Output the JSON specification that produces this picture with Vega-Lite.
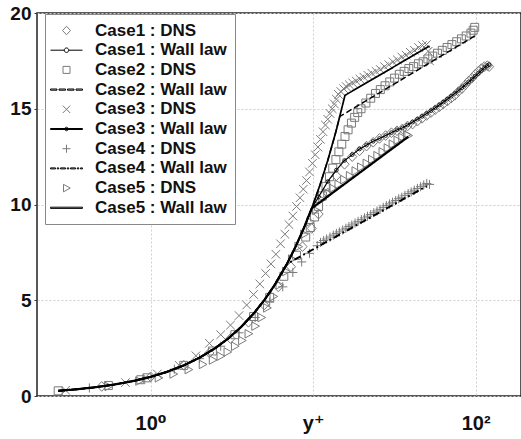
{
  "$schema": "https://vega.github.io/schema/vega-lite/v6.json",
  "width": 484,
  "height": 383,
  "autosize": "none",
  "padding": {"left": 37, "top": 13, "right": 0, "bottom": 43},
  "background": "white",
  "config": {
    "view": {"stroke": "#222222", "strokeWidth": 1.5},
    "axis": {
      "domain": false,
      "title": null,
      "labelFont": "Liberation Sans, DejaVu Sans",
      "labelFontWeight": "bold",
      "labelColor": "#111111",
      "gridColor": "#cfcfcf",
      "gridDash": [2, 2],
      "gridWidth": 1,
      "labelFlush": false,
      "labelOverlap": false
    },
    "legend": {
      "orient": "none",
      "legendX": 8,
      "legendY": 1,
      "padding": 8,
      "rowPadding": 1.7,
      "strokeColor": "#888888",
      "fillColor": "white",
      "symbolSize": 100,
      "symbolOffset": 5,
      "labelOffset": 20,
      "symbolStrokeWidth": 1,
      "symbolOpacity": 1,
      "labelFont": "Liberation Sans",
      "labelFontSize": 17,
      "labelFontWeight": "bold",
      "labelColor": "#111111",
      "labelLimit": 300
    }
  },
  "datasets": {
    "dns": [
      {"series": "Case1 : DNS", "yplus": 0.5, "u": 0.5},
      {"series": "Case1 : DNS", "yplus": 1.0, "u": 1.0},
      {"series": "Case1 : DNS", "yplus": 1.6, "u": 1.6},
      {"series": "Case1 : DNS", "yplus": 2.3, "u": 2.25},
      {"series": "Case1 : DNS", "yplus": 3.1, "u": 3.0},
      {"series": "Case1 : DNS", "yplus": 4.0, "u": 3.85},
      {"series": "Case1 : DNS", "yplus": 5.0, "u": 4.75},
      {"series": "Case1 : DNS", "yplus": 6.1, "u": 5.7},
      {"series": "Case1 : DNS", "yplus": 7.3, "u": 6.75},
      {"series": "Case1 : DNS", "yplus": 8.6, "u": 7.8},
      {"series": "Case1 : DNS", "yplus": 9.8, "u": 8.75},
      {"series": "Case1 : DNS", "yplus": 10.8, "u": 9.5},
      {"series": "Case1 : DNS", "yplus": 12.3, "u": 10.6},
      {"series": "Case1 : DNS", "yplus": 13.9, "u": 11.5},
      {"series": "Case1 : DNS", "yplus": 15.6, "u": 12.1},
      {"series": "Case1 : DNS", "yplus": 17.4, "u": 12.5},
      {"series": "Case1 : DNS", "yplus": 19.3, "u": 12.8},
      {"series": "Case1 : DNS", "yplus": 21.3, "u": 13.05},
      {"series": "Case1 : DNS", "yplus": 23.4, "u": 13.25},
      {"series": "Case1 : DNS", "yplus": 25.6, "u": 13.45},
      {"series": "Case1 : DNS", "yplus": 27.9, "u": 13.6},
      {"series": "Case1 : DNS", "yplus": 30.3, "u": 13.75},
      {"series": "Case1 : DNS", "yplus": 32.8, "u": 13.85},
      {"series": "Case1 : DNS", "yplus": 35.4, "u": 13.95},
      {"series": "Case1 : DNS", "yplus": 38.1, "u": 14.1},
      {"series": "Case1 : DNS", "yplus": 40.9, "u": 14.2},
      {"series": "Case1 : DNS", "yplus": 43.8, "u": 14.35},
      {"series": "Case1 : DNS", "yplus": 46.8, "u": 14.5},
      {"series": "Case1 : DNS", "yplus": 49.9, "u": 14.65},
      {"series": "Case1 : DNS", "yplus": 53.1, "u": 14.8},
      {"series": "Case1 : DNS", "yplus": 56.4, "u": 14.95},
      {"series": "Case1 : DNS", "yplus": 59.8, "u": 15.1},
      {"series": "Case1 : DNS", "yplus": 63.3, "u": 15.25},
      {"series": "Case1 : DNS", "yplus": 66.9, "u": 15.4},
      {"series": "Case1 : DNS", "yplus": 70.6, "u": 15.55},
      {"series": "Case1 : DNS", "yplus": 74.4, "u": 15.7},
      {"series": "Case1 : DNS", "yplus": 78.3, "u": 15.9},
      {"series": "Case1 : DNS", "yplus": 82.3, "u": 16.05},
      {"series": "Case1 : DNS", "yplus": 86.4, "u": 16.25},
      {"series": "Case1 : DNS", "yplus": 90.6, "u": 16.45},
      {"series": "Case1 : DNS", "yplus": 94.9, "u": 16.6},
      {"series": "Case1 : DNS", "yplus": 99.3, "u": 16.8},
      {"series": "Case1 : DNS", "yplus": 103.8, "u": 16.95},
      {"series": "Case1 : DNS", "yplus": 108.4, "u": 17.1},
      {"series": "Case1 : DNS", "yplus": 113.1, "u": 17.2},
      {"series": "Case1 : DNS", "yplus": 117.9, "u": 17.25},
      {"series": "Case1 : DNS", "yplus": 121, "u": 17.2},

      {"series": "Case2 : DNS", "yplus": 0.27, "u": 0.27},
      {"series": "Case2 : DNS", "yplus": 0.55, "u": 0.55},
      {"series": "Case2 : DNS", "yplus": 0.87, "u": 0.85},
      {"series": "Case2 : DNS", "yplus": 0.95, "u": 0.95},
      {"series": "Case2 : DNS", "yplus": 1.6, "u": 1.6},
      {"series": "Case2 : DNS", "yplus": 2.4, "u": 2.35},
      {"series": "Case2 : DNS", "yplus": 3.3, "u": 3.2},
      {"series": "Case2 : DNS", "yplus": 4.3, "u": 4.15},
      {"series": "Case2 : DNS", "yplus": 5.4, "u": 5.15},
      {"series": "Case2 : DNS", "yplus": 6.6, "u": 6.25},
      {"series": "Case2 : DNS", "yplus": 7.9, "u": 7.35},
      {"series": "Case2 : DNS", "yplus": 9.0, "u": 8.3},
      {"series": "Case2 : DNS", "yplus": 9.6, "u": 8.8},
      {"series": "Case2 : DNS", "yplus": 10.2, "u": 9.35},
      {"series": "Case2 : DNS", "yplus": 10.8, "u": 9.9},
      {"series": "Case2 : DNS", "yplus": 11.4, "u": 10.45},
      {"series": "Case2 : DNS", "yplus": 12.0, "u": 10.95},
      {"series": "Case2 : DNS", "yplus": 12.6, "u": 11.45},
      {"series": "Case2 : DNS", "yplus": 13.2, "u": 11.9},
      {"series": "Case2 : DNS", "yplus": 13.8, "u": 12.35},
      {"series": "Case2 : DNS", "yplus": 14.4, "u": 12.75},
      {"series": "Case2 : DNS", "yplus": 15.0, "u": 13.15},
      {"series": "Case2 : DNS", "yplus": 15.7, "u": 13.55},
      {"series": "Case2 : DNS", "yplus": 16.4, "u": 13.9},
      {"series": "Case2 : DNS", "yplus": 17.2, "u": 14.25},
      {"series": "Case2 : DNS", "yplus": 18.0, "u": 14.55},
      {"series": "Case2 : DNS", "yplus": 18.8, "u": 14.8},
      {"series": "Case2 : DNS", "yplus": 19.7, "u": 15.0},
      {"series": "Case2 : DNS", "yplus": 21.1, "u": 15.3},
      {"series": "Case2 : DNS", "yplus": 22.6, "u": 15.55},
      {"series": "Case2 : DNS", "yplus": 24.2, "u": 15.8},
      {"series": "Case2 : DNS", "yplus": 25.9, "u": 16.0},
      {"series": "Case2 : DNS", "yplus": 27.7, "u": 16.2},
      {"series": "Case2 : DNS", "yplus": 29.6, "u": 16.4},
      {"series": "Case2 : DNS", "yplus": 31.7, "u": 16.6},
      {"series": "Case2 : DNS", "yplus": 33.9, "u": 16.8},
      {"series": "Case2 : DNS", "yplus": 36.3, "u": 16.95},
      {"series": "Case2 : DNS", "yplus": 38.8, "u": 17.1},
      {"series": "Case2 : DNS", "yplus": 41.5, "u": 17.2},
      {"series": "Case2 : DNS", "yplus": 44.4, "u": 17.35},
      {"series": "Case2 : DNS", "yplus": 47.5, "u": 17.45},
      {"series": "Case2 : DNS", "yplus": 50.8, "u": 17.6},
      {"series": "Case2 : DNS", "yplus": 54.4, "u": 17.75},
      {"series": "Case2 : DNS", "yplus": 58.2, "u": 17.9},
      {"series": "Case2 : DNS", "yplus": 62.3, "u": 18.05},
      {"series": "Case2 : DNS", "yplus": 66.7, "u": 18.2},
      {"series": "Case2 : DNS", "yplus": 71.4, "u": 18.35},
      {"series": "Case2 : DNS", "yplus": 76.4, "u": 18.5},
      {"series": "Case2 : DNS", "yplus": 81.7, "u": 18.65},
      {"series": "Case2 : DNS", "yplus": 87.4, "u": 18.8},
      {"series": "Case2 : DNS", "yplus": 93.5, "u": 18.95},
      {"series": "Case2 : DNS", "yplus": 96.5, "u": 19.1},
      {"series": "Case2 : DNS", "yplus": 98.6, "u": 19.25},

      {"series": "Case3 : DNS", "yplus": 0.3, "u": 0.3},
      {"series": "Case3 : DNS", "yplus": 0.7, "u": 0.7},
      {"series": "Case3 : DNS", "yplus": 1.1, "u": 1.15},
      {"series": "Case3 : DNS", "yplus": 1.5, "u": 1.6},
      {"series": "Case3 : DNS", "yplus": 1.9, "u": 2.1},
      {"series": "Case3 : DNS", "yplus": 2.3, "u": 2.75},
      {"series": "Case3 : DNS", "yplus": 2.7, "u": 3.2},
      {"series": "Case3 : DNS", "yplus": 3.1, "u": 3.7},
      {"series": "Case3 : DNS", "yplus": 3.5, "u": 4.2},
      {"series": "Case3 : DNS", "yplus": 3.9, "u": 4.75},
      {"series": "Case3 : DNS", "yplus": 4.3, "u": 5.3},
      {"series": "Case3 : DNS", "yplus": 4.7, "u": 5.85},
      {"series": "Case3 : DNS", "yplus": 5.1, "u": 6.4},
      {"series": "Case3 : DNS", "yplus": 5.5, "u": 6.9},
      {"series": "Case3 : DNS", "yplus": 5.9, "u": 7.4},
      {"series": "Case3 : DNS", "yplus": 6.3, "u": 7.95},
      {"series": "Case3 : DNS", "yplus": 6.7, "u": 8.45},
      {"series": "Case3 : DNS", "yplus": 7.1, "u": 8.95},
      {"series": "Case3 : DNS", "yplus": 7.5, "u": 9.4},
      {"series": "Case3 : DNS", "yplus": 7.9, "u": 9.9},
      {"series": "Case3 : DNS", "yplus": 8.3, "u": 10.35},
      {"series": "Case3 : DNS", "yplus": 8.7, "u": 10.8},
      {"series": "Case3 : DNS", "yplus": 9.1, "u": 11.25},
      {"series": "Case3 : DNS", "yplus": 9.5, "u": 11.7},
      {"series": "Case3 : DNS", "yplus": 9.9, "u": 12.15},
      {"series": "Case3 : DNS", "yplus": 10.3, "u": 12.6},
      {"series": "Case3 : DNS", "yplus": 10.7, "u": 13.0},
      {"series": "Case3 : DNS", "yplus": 11.1, "u": 13.4},
      {"series": "Case3 : DNS", "yplus": 11.5, "u": 13.8},
      {"series": "Case3 : DNS", "yplus": 11.9, "u": 14.15},
      {"series": "Case3 : DNS", "yplus": 12.3, "u": 14.45},
      {"series": "Case3 : DNS", "yplus": 12.7, "u": 14.75},
      {"series": "Case3 : DNS", "yplus": 13.1, "u": 15.0},
      {"series": "Case3 : DNS", "yplus": 13.5, "u": 15.25},
      {"series": "Case3 : DNS", "yplus": 13.9, "u": 15.5},
      {"series": "Case3 : DNS", "yplus": 14.3, "u": 15.75},
      {"series": "Case3 : DNS", "yplus": 14.8, "u": 15.9},
      {"series": "Case3 : DNS", "yplus": 15.4, "u": 16.05},
      {"series": "Case3 : DNS", "yplus": 16.0, "u": 16.15},
      {"series": "Case3 : DNS", "yplus": 16.7, "u": 16.25},
      {"series": "Case3 : DNS", "yplus": 17.5, "u": 16.35},
      {"series": "Case3 : DNS", "yplus": 18.4, "u": 16.45},
      {"series": "Case3 : DNS", "yplus": 19.4, "u": 16.55},
      {"series": "Case3 : DNS", "yplus": 20.5, "u": 16.65},
      {"series": "Case3 : DNS", "yplus": 21.7, "u": 16.75},
      {"series": "Case3 : DNS", "yplus": 23.0, "u": 16.85},
      {"series": "Case3 : DNS", "yplus": 24.4, "u": 16.95},
      {"series": "Case3 : DNS", "yplus": 25.9, "u": 17.05},
      {"series": "Case3 : DNS", "yplus": 27.5, "u": 17.2},
      {"series": "Case3 : DNS", "yplus": 29.2, "u": 17.3},
      {"series": "Case3 : DNS", "yplus": 31.0, "u": 17.45},
      {"series": "Case3 : DNS", "yplus": 33.0, "u": 17.55},
      {"series": "Case3 : DNS", "yplus": 35.1, "u": 17.7},
      {"series": "Case3 : DNS", "yplus": 37.3, "u": 17.8},
      {"series": "Case3 : DNS", "yplus": 39.6, "u": 17.95},
      {"series": "Case3 : DNS", "yplus": 42.0, "u": 18.05},
      {"series": "Case3 : DNS", "yplus": 44.5, "u": 18.2},
      {"series": "Case3 : DNS", "yplus": 47.1, "u": 18.3},
      {"series": "Case3 : DNS", "yplus": 49.8, "u": 18.35},
      {"series": "Case3 : DNS", "yplus": 51.0, "u": 18.0},
      {"series": "Case3 : DNS", "yplus": 52.0, "u": 17.5},

      {"series": "Case4 : DNS", "yplus": 0.42, "u": 0.42},
      {"series": "Case4 : DNS", "yplus": 0.9, "u": 0.9},
      {"series": "Case4 : DNS", "yplus": 1.4, "u": 1.4},
      {"series": "Case4 : DNS", "yplus": 2.0, "u": 1.95},
      {"series": "Case4 : DNS", "yplus": 2.7, "u": 2.6},
      {"series": "Case4 : DNS", "yplus": 3.5, "u": 3.3},
      {"series": "Case4 : DNS", "yplus": 4.4, "u": 4.1},
      {"series": "Case4 : DNS", "yplus": 5.4, "u": 4.9},
      {"series": "Case4 : DNS", "yplus": 6.5, "u": 5.7},
      {"series": "Case4 : DNS", "yplus": 7.5, "u": 6.45},
      {"series": "Case4 : DNS", "yplus": 8.5, "u": 7.0},
      {"series": "Case4 : DNS", "yplus": 9.5, "u": 7.45},
      {"series": "Case4 : DNS", "yplus": 10.6, "u": 7.85},
      {"series": "Case4 : DNS", "yplus": 11.1, "u": 8.02},
      {"series": "Case4 : DNS", "yplus": 11.6, "u": 8.12},
      {"series": "Case4 : DNS", "yplus": 12.1, "u": 8.2},
      {"series": "Case4 : DNS", "yplus": 12.7, "u": 8.3},
      {"series": "Case4 : DNS", "yplus": 13.3, "u": 8.4},
      {"series": "Case4 : DNS", "yplus": 13.9, "u": 8.49},
      {"series": "Case4 : DNS", "yplus": 14.5, "u": 8.57},
      {"series": "Case4 : DNS", "yplus": 15.2, "u": 8.67},
      {"series": "Case4 : DNS", "yplus": 15.9, "u": 8.76},
      {"series": "Case4 : DNS", "yplus": 16.6, "u": 8.85},
      {"series": "Case4 : DNS", "yplus": 17.3, "u": 8.93},
      {"series": "Case4 : DNS", "yplus": 18.1, "u": 9.03},
      {"series": "Case4 : DNS", "yplus": 18.9, "u": 9.12},
      {"series": "Case4 : DNS", "yplus": 19.8, "u": 9.21},
      {"series": "Case4 : DNS", "yplus": 20.7, "u": 9.3},
      {"series": "Case4 : DNS", "yplus": 21.6, "u": 9.39},
      {"series": "Case4 : DNS", "yplus": 22.6, "u": 9.48},
      {"series": "Case4 : DNS", "yplus": 23.6, "u": 9.57},
      {"series": "Case4 : DNS", "yplus": 24.7, "u": 9.66},
      {"series": "Case4 : DNS", "yplus": 25.8, "u": 9.75},
      {"series": "Case4 : DNS", "yplus": 27.0, "u": 9.85},
      {"series": "Case4 : DNS", "yplus": 28.2, "u": 9.94},
      {"series": "Case4 : DNS", "yplus": 29.5, "u": 10.03},
      {"series": "Case4 : DNS", "yplus": 30.8, "u": 10.12},
      {"series": "Case4 : DNS", "yplus": 32.2, "u": 10.21},
      {"series": "Case4 : DNS", "yplus": 33.6, "u": 10.3},
      {"series": "Case4 : DNS", "yplus": 35.1, "u": 10.38},
      {"series": "Case4 : DNS", "yplus": 36.7, "u": 10.48},
      {"series": "Case4 : DNS", "yplus": 38.4, "u": 10.57},
      {"series": "Case4 : DNS", "yplus": 40.1, "u": 10.66},
      {"series": "Case4 : DNS", "yplus": 41.9, "u": 10.75},
      {"series": "Case4 : DNS", "yplus": 43.8, "u": 10.84},
      {"series": "Case4 : DNS", "yplus": 45.8, "u": 10.93},
      {"series": "Case4 : DNS", "yplus": 47.9, "u": 11.02},
      {"series": "Case4 : DNS", "yplus": 50.0, "u": 11.1},
      {"series": "Case4 : DNS", "yplus": 52.0, "u": 11.05},

      {"series": "Case5 : DNS", "yplus": 0.55, "u": 0.5},
      {"series": "Case5 : DNS", "yplus": 0.85, "u": 0.78},
      {"series": "Case5 : DNS", "yplus": 1.12, "u": 0.95},
      {"series": "Case5 : DNS", "yplus": 1.38, "u": 1.15},
      {"series": "Case5 : DNS", "yplus": 1.71, "u": 1.38},
      {"series": "Case5 : DNS", "yplus": 2.09, "u": 1.65},
      {"series": "Case5 : DNS", "yplus": 2.41, "u": 1.88},
      {"series": "Case5 : DNS", "yplus": 2.69, "u": 2.08},
      {"series": "Case5 : DNS", "yplus": 2.97, "u": 2.3},
      {"series": "Case5 : DNS", "yplus": 3.3, "u": 2.6},
      {"series": "Case5 : DNS", "yplus": 3.65, "u": 2.9},
      {"series": "Case5 : DNS", "yplus": 4.0, "u": 3.25},
      {"series": "Case5 : DNS", "yplus": 4.4, "u": 3.65},
      {"series": "Case5 : DNS", "yplus": 4.8, "u": 4.1},
      {"series": "Case5 : DNS", "yplus": 5.2, "u": 4.6},
      {"series": "Case5 : DNS", "yplus": 5.7, "u": 5.2},
      {"series": "Case5 : DNS", "yplus": 6.2, "u": 5.8},
      {"series": "Case5 : DNS", "yplus": 6.8, "u": 6.5},
      {"series": "Case5 : DNS", "yplus": 7.4, "u": 7.15},
      {"series": "Case5 : DNS", "yplus": 8.1, "u": 7.8},
      {"series": "Case5 : DNS", "yplus": 8.8, "u": 8.45},
      {"series": "Case5 : DNS", "yplus": 9.6, "u": 9.1},
      {"series": "Case5 : DNS", "yplus": 10.4, "u": 9.7},
      {"series": "Case5 : DNS", "yplus": 11.3, "u": 10.25},
      {"series": "Case5 : DNS", "yplus": 12.2, "u": 10.6},
      {"series": "Case5 : DNS", "yplus": 13.2, "u": 10.85},
      {"series": "Case5 : DNS", "yplus": 14.3, "u": 11.05},
      {"series": "Case5 : DNS", "yplus": 15.5, "u": 11.3},
      {"series": "Case5 : DNS", "yplus": 16.8, "u": 11.5},
      {"series": "Case5 : DNS", "yplus": 18.2, "u": 11.75},
      {"series": "Case5 : DNS", "yplus": 19.7, "u": 11.95},
      {"series": "Case5 : DNS", "yplus": 21.3, "u": 12.15},
      {"series": "Case5 : DNS", "yplus": 23.0, "u": 12.35},
      {"series": "Case5 : DNS", "yplus": 24.8, "u": 12.55},
      {"series": "Case5 : DNS", "yplus": 26.7, "u": 12.75},
      {"series": "Case5 : DNS", "yplus": 28.7, "u": 12.95},
      {"series": "Case5 : DNS", "yplus": 30.8, "u": 13.15},
      {"series": "Case5 : DNS", "yplus": 33.0, "u": 13.35},
      {"series": "Case5 : DNS", "yplus": 35.3, "u": 13.5},
      {"series": "Case5 : DNS", "yplus": 37.7, "u": 13.65},
      {"series": "Case5 : DNS", "yplus": 38.5, "u": 13.6}
    ],
    "law": [
      {"series": "Case1 : Wall law", "yplus": 0.27, "u": 0.27},
      {"series": "Case1 : Wall law", "yplus": 0.35, "u": 0.35},
      {"series": "Case1 : Wall law", "yplus": 0.45, "u": 0.45},
      {"series": "Case1 : Wall law", "yplus": 0.6, "u": 0.6},
      {"series": "Case1 : Wall law", "yplus": 0.8, "u": 0.8},
      {"series": "Case1 : Wall law", "yplus": 1.0, "u": 1.0},
      {"series": "Case1 : Wall law", "yplus": 1.25, "u": 1.25},
      {"series": "Case1 : Wall law", "yplus": 1.6, "u": 1.6},
      {"series": "Case1 : Wall law", "yplus": 2.0, "u": 2.0},
      {"series": "Case1 : Wall law", "yplus": 2.5, "u": 2.5},
      {"series": "Case1 : Wall law", "yplus": 3.0, "u": 3.0},
      {"series": "Case1 : Wall law", "yplus": 3.6, "u": 3.6},
      {"series": "Case1 : Wall law", "yplus": 4.3, "u": 4.3},
      {"series": "Case1 : Wall law", "yplus": 5.0, "u": 5.0},
      {"series": "Case1 : Wall law", "yplus": 5.8, "u": 5.8},
      {"series": "Case1 : Wall law", "yplus": 6.9, "u": 6.9},
      {"series": "Case1 : Wall law", "yplus": 7.8, "u": 7.8},
      {"series": "Case1 : Wall law", "yplus": 8.8, "u": 8.8},
      {"series": "Case1 : Wall law", "yplus": 9.8, "u": 9.8},
      {"series": "Case1 : Wall law", "yplus": 10.8, "u": 10.4},
      {"series": "Case1 : Wall law", "yplus": 12.3, "u": 11.2},
      {"series": "Case1 : Wall law", "yplus": 13.9, "u": 11.8},
      {"series": "Case1 : Wall law", "yplus": 15.6, "u": 12.3},
      {"series": "Case1 : Wall law", "yplus": 17.4, "u": 12.6},
      {"series": "Case1 : Wall law", "yplus": 19.3, "u": 12.9},
      {"series": "Case1 : Wall law", "yplus": 21.3, "u": 13.1},
      {"series": "Case1 : Wall law", "yplus": 23.4, "u": 13.3},
      {"series": "Case1 : Wall law", "yplus": 25.6, "u": 13.45},
      {"series": "Case1 : Wall law", "yplus": 27.9, "u": 13.6},
      {"series": "Case1 : Wall law", "yplus": 30.3, "u": 13.75},
      {"series": "Case1 : Wall law", "yplus": 32.8, "u": 13.9},
      {"series": "Case1 : Wall law", "yplus": 35.4, "u": 14.0},
      {"series": "Case1 : Wall law", "yplus": 38.1, "u": 14.15},
      {"series": "Case1 : Wall law", "yplus": 40.9, "u": 14.3},
      {"series": "Case1 : Wall law", "yplus": 43.8, "u": 14.45},
      {"series": "Case1 : Wall law", "yplus": 46.8, "u": 14.6},
      {"series": "Case1 : Wall law", "yplus": 49.9, "u": 14.75},
      {"series": "Case1 : Wall law", "yplus": 53.1, "u": 14.9},
      {"series": "Case1 : Wall law", "yplus": 56.4, "u": 15.05},
      {"series": "Case1 : Wall law", "yplus": 59.8, "u": 15.2},
      {"series": "Case1 : Wall law", "yplus": 63.3, "u": 15.35},
      {"series": "Case1 : Wall law", "yplus": 66.9, "u": 15.5},
      {"series": "Case1 : Wall law", "yplus": 70.6, "u": 15.65},
      {"series": "Case1 : Wall law", "yplus": 74.4, "u": 15.8},
      {"series": "Case1 : Wall law", "yplus": 78.3, "u": 15.95},
      {"series": "Case1 : Wall law", "yplus": 82.3, "u": 16.1},
      {"series": "Case1 : Wall law", "yplus": 86.4, "u": 16.25},
      {"series": "Case1 : Wall law", "yplus": 90.6, "u": 16.4},
      {"series": "Case1 : Wall law", "yplus": 94.9, "u": 16.55},
      {"series": "Case1 : Wall law", "yplus": 99.3, "u": 16.7},
      {"series": "Case1 : Wall law", "yplus": 103.8, "u": 16.85},
      {"series": "Case1 : Wall law", "yplus": 108.4, "u": 17.0},
      {"series": "Case1 : Wall law", "yplus": 113.1, "u": 17.15},
      {"series": "Case1 : Wall law", "yplus": 117.9, "u": 17.25},
      {"series": "Case1 : Wall law", "yplus": 121, "u": 17.3},

      {"series": "Case2 : Wall law", "yplus": 0.27, "u": 0.27},
      {"series": "Case2 : Wall law", "yplus": 0.35, "u": 0.35},
      {"series": "Case2 : Wall law", "yplus": 0.45, "u": 0.45},
      {"series": "Case2 : Wall law", "yplus": 0.6, "u": 0.6},
      {"series": "Case2 : Wall law", "yplus": 0.8, "u": 0.8},
      {"series": "Case2 : Wall law", "yplus": 1.0, "u": 1.0},
      {"series": "Case2 : Wall law", "yplus": 1.25, "u": 1.25},
      {"series": "Case2 : Wall law", "yplus": 1.6, "u": 1.6},
      {"series": "Case2 : Wall law", "yplus": 2.0, "u": 2.0},
      {"series": "Case2 : Wall law", "yplus": 2.5, "u": 2.5},
      {"series": "Case2 : Wall law", "yplus": 3.0, "u": 3.0},
      {"series": "Case2 : Wall law", "yplus": 3.6, "u": 3.6},
      {"series": "Case2 : Wall law", "yplus": 4.3, "u": 4.3},
      {"series": "Case2 : Wall law", "yplus": 5.0, "u": 5.0},
      {"series": "Case2 : Wall law", "yplus": 5.8, "u": 5.8},
      {"series": "Case2 : Wall law", "yplus": 6.9, "u": 6.9},
      {"series": "Case2 : Wall law", "yplus": 7.8, "u": 7.8},
      {"series": "Case2 : Wall law", "yplus": 8.8, "u": 8.8},
      {"series": "Case2 : Wall law", "yplus": 9.8, "u": 9.8},
      {"series": "Case2 : Wall law", "yplus": 11.0, "u": 11.0},
      {"series": "Case2 : Wall law", "yplus": 12.3, "u": 12.3},
      {"series": "Case2 : Wall law", "yplus": 13.4, "u": 13.4},
      {"series": "Case2 : Wall law", "yplus": 14.6, "u": 14.6},
      {"series": "Case2 : Wall law", "yplus": 98.6, "u": 18.8},

      {"series": "Case3 : Wall law", "yplus": 0.27, "u": 0.27},
      {"series": "Case3 : Wall law", "yplus": 0.35, "u": 0.35},
      {"series": "Case3 : Wall law", "yplus": 0.45, "u": 0.45},
      {"series": "Case3 : Wall law", "yplus": 0.6, "u": 0.6},
      {"series": "Case3 : Wall law", "yplus": 0.8, "u": 0.8},
      {"series": "Case3 : Wall law", "yplus": 1.0, "u": 1.0},
      {"series": "Case3 : Wall law", "yplus": 1.25, "u": 1.25},
      {"series": "Case3 : Wall law", "yplus": 1.6, "u": 1.6},
      {"series": "Case3 : Wall law", "yplus": 2.0, "u": 2.0},
      {"series": "Case3 : Wall law", "yplus": 2.5, "u": 2.5},
      {"series": "Case3 : Wall law", "yplus": 3.0, "u": 3.0},
      {"series": "Case3 : Wall law", "yplus": 3.6, "u": 3.6},
      {"series": "Case3 : Wall law", "yplus": 4.3, "u": 4.3},
      {"series": "Case3 : Wall law", "yplus": 5.0, "u": 5.0},
      {"series": "Case3 : Wall law", "yplus": 5.8, "u": 5.8},
      {"series": "Case3 : Wall law", "yplus": 6.9, "u": 6.9},
      {"series": "Case3 : Wall law", "yplus": 7.8, "u": 7.8},
      {"series": "Case3 : Wall law", "yplus": 8.8, "u": 8.8},
      {"series": "Case3 : Wall law", "yplus": 9.8, "u": 9.8},
      {"series": "Case3 : Wall law", "yplus": 11.0, "u": 11.0},
      {"series": "Case3 : Wall law", "yplus": 12.3, "u": 12.3},
      {"series": "Case3 : Wall law", "yplus": 13.8, "u": 13.8},
      {"series": "Case3 : Wall law", "yplus": 15.7, "u": 15.7},
      {"series": "Case3 : Wall law", "yplus": 52, "u": 18.28},

      {"series": "Case4 : Wall law", "yplus": 0.27, "u": 0.27},
      {"series": "Case4 : Wall law", "yplus": 0.35, "u": 0.35},
      {"series": "Case4 : Wall law", "yplus": 0.45, "u": 0.45},
      {"series": "Case4 : Wall law", "yplus": 0.6, "u": 0.6},
      {"series": "Case4 : Wall law", "yplus": 0.8, "u": 0.8},
      {"series": "Case4 : Wall law", "yplus": 1.0, "u": 1.0},
      {"series": "Case4 : Wall law", "yplus": 1.25, "u": 1.25},
      {"series": "Case4 : Wall law", "yplus": 1.6, "u": 1.6},
      {"series": "Case4 : Wall law", "yplus": 2.0, "u": 2.0},
      {"series": "Case4 : Wall law", "yplus": 2.5, "u": 2.5},
      {"series": "Case4 : Wall law", "yplus": 3.0, "u": 3.0},
      {"series": "Case4 : Wall law", "yplus": 3.6, "u": 3.6},
      {"series": "Case4 : Wall law", "yplus": 4.3, "u": 4.3},
      {"series": "Case4 : Wall law", "yplus": 5.0, "u": 5.0},
      {"series": "Case4 : Wall law", "yplus": 5.8, "u": 5.8},
      {"series": "Case4 : Wall law", "yplus": 6.9, "u": 6.9},
      {"series": "Case4 : Wall law", "yplus": 50, "u": 10.96},

      {"series": "Case5 : Wall law", "yplus": 0.27, "u": 0.27},
      {"series": "Case5 : Wall law", "yplus": 0.35, "u": 0.35},
      {"series": "Case5 : Wall law", "yplus": 0.45, "u": 0.45},
      {"series": "Case5 : Wall law", "yplus": 0.6, "u": 0.6},
      {"series": "Case5 : Wall law", "yplus": 0.8, "u": 0.8},
      {"series": "Case5 : Wall law", "yplus": 1.0, "u": 1.0},
      {"series": "Case5 : Wall law", "yplus": 1.25, "u": 1.25},
      {"series": "Case5 : Wall law", "yplus": 1.6, "u": 1.6},
      {"series": "Case5 : Wall law", "yplus": 2.0, "u": 2.0},
      {"series": "Case5 : Wall law", "yplus": 2.5, "u": 2.5},
      {"series": "Case5 : Wall law", "yplus": 3.0, "u": 3.0},
      {"series": "Case5 : Wall law", "yplus": 3.6, "u": 3.6},
      {"series": "Case5 : Wall law", "yplus": 4.3, "u": 4.3},
      {"series": "Case5 : Wall law", "yplus": 5.0, "u": 5.0},
      {"series": "Case5 : Wall law", "yplus": 5.8, "u": 5.8},
      {"series": "Case5 : Wall law", "yplus": 6.9, "u": 6.9},
      {"series": "Case5 : Wall law", "yplus": 7.8, "u": 7.8},
      {"series": "Case5 : Wall law", "yplus": 8.8, "u": 8.8},
      {"series": "Case5 : Wall law", "yplus": 9.8, "u": 9.8},
      {"series": "Case5 : Wall law", "yplus": 38.5, "u": 13.54}
    ]
  },
  "layer": [
    {
      "data": {"name": "dns"},
      "mark": {"type": "point", "filled": false, "size": 130, "strokeWidth": 1, "opacity": 1},
      "encoding": {
        "x": {
          "field": "yplus", "type": "quantitative",
          "scale": {"type": "log", "domain": [0.2, 190], "nice": false},
          "axis": {
            "values": [1, 10, 100],
            "labelExpr": "datum.value == 1 ? '10⁰' : (datum.value == 10 ? 'y⁺' : '10²')",
            "labelFontSize": 20,
            "labelPadding": 17,
            "ticks": false,
            "encode": {"labels": {"update": {"dx": {"signal": "datum.value == 10 ? -18 : 0"}}}}
          }
        },
        "y": {
          "field": "u", "type": "quantitative",
          "scale": {"domain": [0, 20], "nice": false},
          "axis": {
            "values": [0, 5, 10, 15, 20],
            "labelFontSize": 19,
            "labelPadding": 3,
            "ticks": true,
            "tickSize": 3,
            "tickColor": "#333333"
          }
        },
        "shape": {
          "field": "series", "type": "nominal",
          "scale": {
            "domain": ["Case1 : DNS", "Case1 : Wall law", "Case2 : DNS", "Case2 : Wall law", "Case3 : DNS", "Case3 : Wall law", "Case4 : DNS", "Case4 : Wall law", "Case5 : DNS", "Case5 : Wall law"],
            "range": [
              "M0,-0.85L0.8,0L0,0.85L-0.8,0Z",
              "M-3.2,0L-0.45,0M0.45,0L3.2,0M0.45,0A0.45,0.45,0,1,1,-0.45,0A0.45,0.45,0,1,1,0.45,0",
              "M-0.7,-0.7L0.7,-0.7L0.7,0.7L-0.7,0.7Z",
              "M-3.2,-0.12L-1.9,-0.12L-1.9,0.12L-3.2,0.12Z M-1.5,-0.12L-0.2,-0.12L-0.2,0.12L-1.5,0.12Z M0.2,-0.12L1.5,-0.12L1.5,0.12L0.2,0.12Z M1.9,-0.12L3.2,-0.12L3.2,0.12L1.9,0.12Z",
              "M-0.75,-0.75L0.75,0.75M-0.75,0.75L0.75,-0.75",
              "M-3.2,-0.1L3.2,-0.1L3.2,0.1L-3.2,0.1Z M0.35,0A0.35,0.35,0,1,1,-0.35,0A0.35,0.35,0,1,1,0.35,0",
              "M-0.8,0L0.8,0M0,-0.8L0,0.8",
              "M-3.2,-0.1L-2.2,-0.1L-2.2,0.1L-3.2,0.1Z M-1.85,-0.1L-1.55,-0.1L-1.55,0.1L-1.85,0.1Z M-1.2,-0.1L-0.2,-0.1L-0.2,0.1L-1.2,0.1Z M0.15,-0.1L0.45,-0.1L0.45,0.1L0.15,0.1Z M0.8,-0.1L1.8,-0.1L1.8,0.1L0.8,0.1Z M2.15,-0.1L2.45,-0.1L2.45,0.1L2.15,0.1Z M2.8,-0.1L3.2,-0.1L3.2,0.1L2.8,0.1Z",
              "M-0.6,-0.75L0.75,0L-0.6,0.75Z",
              "M-3.2,-0.12L3.2,-0.12L3.2,0.12L-3.2,0.12Z"
            ]
          },
          "legend": {"title": null}
        },
        "color": {
          "field": "series", "type": "nominal",
          "scale": {
            "domain": ["Case1 : DNS", "Case1 : Wall law", "Case2 : DNS", "Case2 : Wall law", "Case3 : DNS", "Case3 : Wall law", "Case4 : DNS", "Case4 : Wall law", "Case5 : DNS", "Case5 : Wall law"],
            "range": ["#7a7a7a", "#000000", "#7a7a7a", "#000000", "#7a7a7a", "#000000", "#7a7a7a", "#000000", "#7a7a7a", "#000000"]
          },
          "legend": {"title": null}
        }
      }
    },
    {
      "data": {"name": "law"},
      "mark": {"type": "line", "opacity": 1},
      "encoding": {
        "x": {"field": "yplus", "type": "quantitative"},
        "y": {"field": "u", "type": "quantitative"},
        "color": {"field": "series", "type": "nominal", "legend": null},
        "strokeDash": {
          "field": "series", "type": "nominal",
          "scale": {
            "domain": ["Case1 : Wall law", "Case2 : Wall law", "Case3 : Wall law", "Case4 : Wall law", "Case5 : Wall law"],
            "range": [[1, 0], [6, 3], [1, 0], [7, 3, 2, 3], [1, 0]]
          },
          "legend": null
        },
        "strokeWidth": {
          "field": "series", "type": "nominal",
          "scale": {
            "domain": ["Case1 : Wall law", "Case2 : Wall law", "Case3 : Wall law", "Case4 : Wall law", "Case5 : Wall law"],
            "range": [1.2, 2.2, 2.6, 2, 2.2]
          },
          "legend": null
        }
      }
    },
    {
      "data": {"name": "law"},
      "transform": [{"filter": "datum.series == 'Case1 : Wall law' && datum.yplus > 10"}],
      "mark": {"type": "point", "shape": "circle", "filled": false, "size": 14, "color": "#000000", "strokeWidth": 0.8, "opacity": 1},
      "encoding": {
        "x": {"field": "yplus", "type": "quantitative"},
        "y": {"field": "u", "type": "quantitative"}
      }
    }
  ]
}
